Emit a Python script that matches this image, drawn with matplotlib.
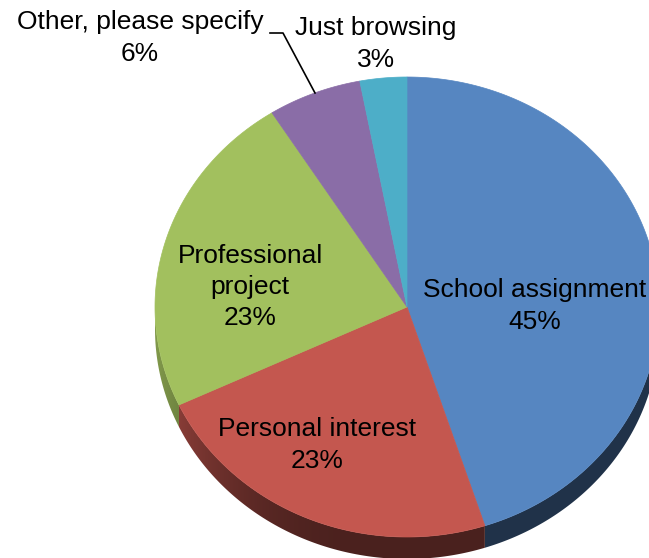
import numpy as np
import matplotlib
matplotlib.use("Agg")
import matplotlib.pyplot as plt
from matplotlib.patches import Polygon
from matplotlib.colors import to_rgb

# survey answers, clockwise from 12 o'clock
labels = ["School assignment", "Personal interest", "Professional\nproject",
          "Other, please specify", "Just browsing"]
shares = [45, 23, 23, 6, 3]
colors = ["#5686c1", "#c4574f", "#a2c05e", "#8a6da7", "#4daec8"]

# label anchor points (pixels) and leader line for the small slice
label_pos = [(535, 306), (317, 445), (250, 287), (140, 38), (376, 44)]
leader = [(270, 33), (283, 33), (315, 93)]

# tilted pie geometry in pixel space
cx, cy = 407, 307
rx, ry = 252, 230
depth = 22

W, H = 649, 558
fig = plt.figure(figsize=(W / 100, H / 100), dpi=100)
ax = fig.add_axes([0, 0, 1, 1])
ax.set_xlim(0, W)
ax.set_ylim(H, 0)
ax.axis("off")


def edge(theta_deg, dz=0.0):
    t = np.radians(theta_deg)
    return cx + rx * np.sin(t), cy - ry * np.cos(t) + dz


bounds = np.concatenate([[0], np.cumsum(shares)]) / sum(shares) * 360.0

# side wall lighting only depends on x for the front half
xs = np.arange(W) + 0.5
lit = np.clip((cx - xs) / rx, 0, 1)
factor = 0.38 + 0.42 * lit ** 3

# side wall, only the front half (90..270 deg) is visible
for i, col in enumerate(colors):
    a0, a1 = max(bounds[i], 90), min(bounds[i + 1], 270)
    if a1 <= a0:
        continue
    arc = np.linspace(a0, a1, 200)
    pts = [edge(a) for a in arc] + [edge(a, depth) for a in arc[::-1]]
    wall = Polygon(pts, closed=True, facecolor="none", edgecolor="none")
    ax.add_patch(wall)
    rgb = np.array(to_rgb(col))
    img = np.tile((factor[:, None] * rgb)[None, :, :], (H, 1, 1))
    im = ax.imshow(img, extent=[0, W, H, 0], interpolation="bilinear", zorder=1)
    im.set_clip_path(wall)

# top faces
for i, col in enumerate(colors):
    arc = np.linspace(bounds[i], bounds[i + 1], 200)
    pts = [(cx, cy)] + [edge(a) for a in arc]
    ax.add_patch(Polygon(pts, closed=True, facecolor=col, edgecolor=col,
                         lw=0.5, zorder=2))

ax.set_xlim(0, W)
ax.set_ylim(H, 0)

for lab, v, (x, y) in zip(labels, shares, label_pos):
    ax.text(x, y, f"{lab}\n{v}%", ha="center", va="center", fontsize=19,
            family="Liberation Sans", linespacing=1.38, color="black", zorder=3)

lx, ly = zip(*leader)
ax.plot(lx, ly, color="black", lw=1.2, zorder=3)

fig.savefig("out.png", dpi=100)
